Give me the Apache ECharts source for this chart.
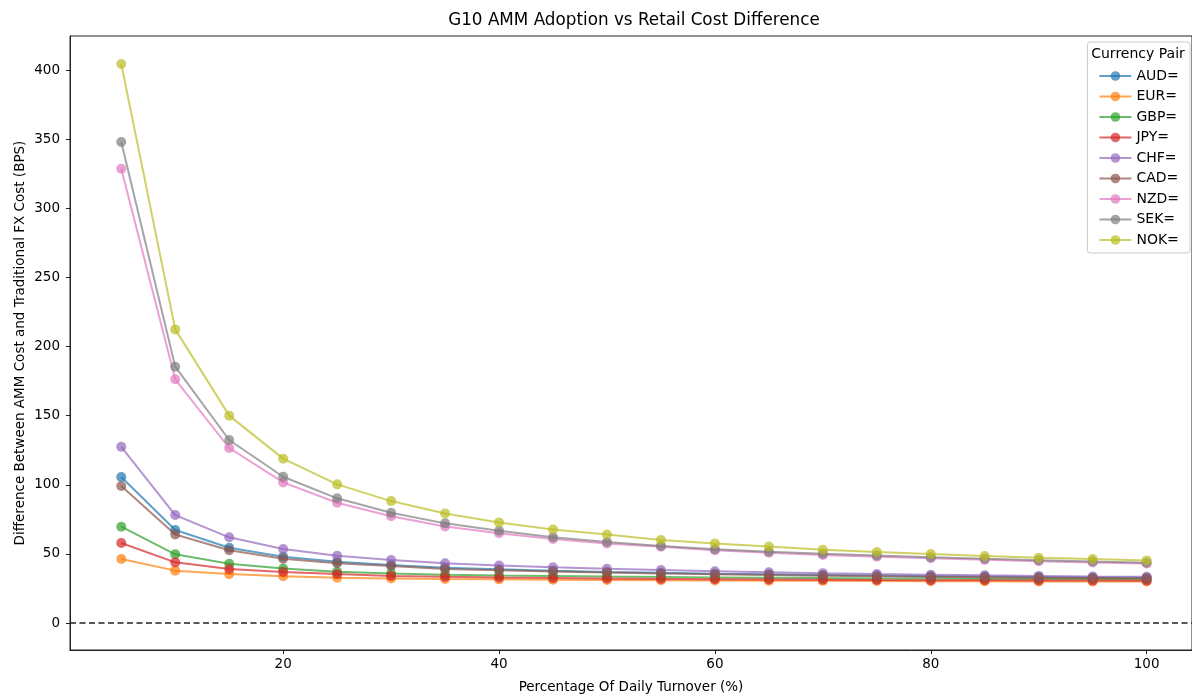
<!DOCTYPE html>
<html>
<head>
<meta charset="utf-8">
<script src="https://cdn.jsdelivr.net/npm/echarts@6/dist/echarts.min.js"></script>
<style>
html,body{margin:0;padding:0;background:#fff;}
#chart{width:1192px;height:694px;}
</style>
</head>
<body>
<div id="chart"></div>
<script>
const turnover = [5,10,15,20,25,30,35,40,45,50,55,60,65,70,75,80,85,90,95,100];
const pairs = ['AUD=','EUR=','GBP=','JPY=','CHF=','CAD=','NZD=','SEK=','NOK='];
const AUD = [105.6,67.3,54.5,48.0,44.4,42.0,40.0,38.9,37.9,37.0,36.3,35.7,35.2,34.7,34.3,33.9,33.6,33.3,33.0,32.8];
const EUR = [46.3,37.9,35.4,33.8,32.8,32.3,31.8,31.6,31.3,31.1,30.9,30.8,30.6,30.5,30.4,30.3,30.2,30.1,30.0,30.0];
const GBP = [69.7,49.7,42.9,39.5,37.1,35.9,35.0,34.4,34.0,33.6,33.3,33.0,32.8,32.5,32.3,32.2,32.0,31.9,31.8,31.6];
const JPY = [57.9,43.9,39.1,36.9,35.4,34.1,33.4,32.9,32.5,32.2,31.9,31.7,31.5,31.3,31.1,31.0,30.9,30.8,30.7,30.6];
const CHF = [127.5,78.1,62.0,53.5,48.7,45.6,43.2,41.6,40.3,39.2,38.3,37.5,36.8,36.1,35.5,35.0,34.5,34.1,33.7,33.4];
const CAD = [99.1,64.1,52.6,46.5,43.2,41.2,39.1,38.2,37.3,36.5,35.8,35.2,34.7,34.2,33.8,33.4,33.1,32.8,32.5,32.2];
const NZD = [328.6,176.3,126.6,101.7,87.0,77.2,69.9,64.9,60.8,57.6,55.2,52.6,50.9,49.3,48.0,46.8,45.7,44.7,43.8,43.0];
const SEK = [347.9,185.4,132.4,105.8,90.2,79.8,72.1,66.8,62.0,58.6,55.7,53.3,51.6,50.1,48.8,47.6,46.5,45.5,44.5,43.6];
const NOK = [404.3,212.4,150.0,118.9,100.3,88.2,79.3,72.8,67.7,64.1,60.0,57.6,55.4,53.0,51.4,49.9,48.5,47.3,46.3,45.3];
const seriesValues = [AUD,EUR,GBP,JPY,CHF,CAD,NZD,SEK,NOK];
const xTicks = [20,40,60,80,100];
const yTicks = [0,50,100,150,200,250,300,350,400];
const colors = ['#1f77b4','#ff7f0e','#2ca02c','#d62728','#9467bd','#8c564b','#e377c2','#7f7f7f','#bcbd22'];

const FONT = 'DejaVu Sans';
const chart = echarts.init(document.getElementById('chart'), null, {renderer:'canvas'});

const series = pairs.map((name, i) => ({
  name: name,
  type: 'line',
  data: turnover.map((x, j) => [x, seriesValues[i][j]]),
  symbol: 'circle',
  symbolSize: 10,
  showSymbol: true,
  lineStyle: {width: 2, color: colors[i], opacity: 0.7},
  itemStyle: {color: colors[i], opacity: 0.7},
  emphasis: {disabled: true},
  animation: false,
  z: 2 + i
}));
series.push({
  name: 'zero',
  type: 'line',
  data: [[0.25,0],[104.2,0]],
  symbol: 'none',
  lineStyle: {width: 1.4, color: '#222', type: [6,3.5]},
  emphasis: {disabled: true},
  animation: false,
  z: 1,
  silent: true
});

chart.setOption({
  animation: false,
  backgroundColor: '#fff',
  textStyle: {fontFamily: FONT},
  color: colors,
  grid: {left: 70, right: 0, top: 36, bottom: 44, outerBoundsMode: 'none', containLabel: false, show: true, borderColor: '#222', borderWidth: 1, backgroundColor: 'transparent'},
  graphic: [
    {type: 'text', x: 634, y: 12, z: 100, style: {text: 'G10 AMM Adoption vs Retail Cost Difference', fontFamily: FONT, fontSize: 16.8, fill: '#000', textAlign: 'center'}},
    {type: 'text', x: 1138, y: 47, z: 100, style: {text: 'Currency Pair', fontFamily: FONT, fontSize: 14, fill: '#000', textAlign: 'center'}}
  ],
  xAxis: {
    type: 'value', min: 0.25, max: 104.2,
    splitLine: {show: false},
    axisLine: {show: true, onZero: false, lineStyle: {color: '#222', width: 1}},
    axisTick: {show: true, length: 4, customValues: xTicks, lineStyle: {color: '#222'}},
    axisLabel: {customValues: xTicks, fontFamily: FONT, fontSize: 13.5, color: '#000', margin: 7},
    name: 'Percentage Of Daily Turnover (%)', nameLocation: 'middle', nameGap: 30, nameMoveOverlap: false,
    nameTextStyle: {fontFamily: FONT, fontSize: 13.5, color: '#000'}
  },
  yAxis: {
    type: 'value', min: -19.5, max: 424.6,
    splitLine: {show: false},
    axisLine: {show: true, onZero: false, lineStyle: {color: '#222', width: 1}},
    axisTick: {show: true, length: 4, customValues: yTicks, lineStyle: {color: '#222'}},
    axisLabel: {customValues: yTicks, fontFamily: FONT, fontSize: 13.5, color: '#000', margin: 10},
    name: 'Difference Between AMM Cost and Traditional FX Cost (BPS)', nameLocation: 'middle', nameGap: 43, nameRotate: 90, nameMoveOverlap: false,
    nameTextStyle: {fontFamily: FONT, fontSize: 13.5, color: '#000'}
  },
  legend: {
    data: pairs,
    orient: 'vertical',
    right: 2, top: 42,
    padding: [27, 11, 6, 11],
    itemWidth: 32, itemHeight: 12, itemGap: 6.5,
    backgroundColor: 'rgba(255,255,255,0.8)',
    borderColor: '#ccc', borderWidth: 1, borderRadius: 3,
    textStyle: {fontFamily: FONT, fontSize: 14, color: '#000'},
    selectedMode: false
  },
  series: series
});
</script>
</body>
</html>
